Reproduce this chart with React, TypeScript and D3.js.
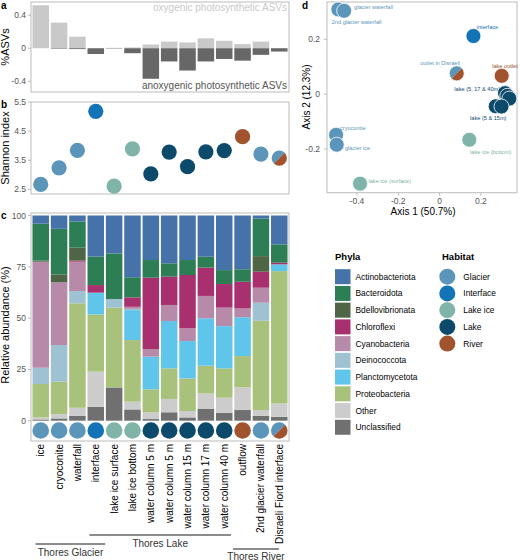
import React from 'react'
import * as d3 from 'd3'

// samples along the transect
const samples = ['ice', 'cryoconite', 'waterfall', 'interface', 'lake ice surface', 'lake ice bottom',
  'water column 5 m', 'water column 5 m ', 'water column 15 m', 'water column 17 m', 'water column 40 m',
  'outflow', '2nd glacier waterfall', 'Disraeli Fiord interface']
const sampleHabitat = ['Glacier', 'Glacier', 'Glacier', 'Interface', 'Lake ice', 'Lake ice', 'Lake', 'Lake',
  'Lake', 'Lake', 'Lake', 'River', 'Glacier', 'Glacier/River']

// panel a
const oxygenic = [0.52, 0.31, 0.14, 0, 0.005, 0.01, 0.045, 0.08, 0.07, 0.12, 0.09, 0.05, 0.08, 0]
const anoxygenic = [0, -0.006, -0.01, -0.07, -0.004, -0.06, -0.37, -0.16, -0.27, -0.16, -0.13, -0.15, -0.08, -0.04]

// panel b
const shannon = [2.67, 3.24, 3.84, 5.18, 2.61, 3.89, 3.03, 3.78, 3.28, 3.79, 3.83, 4.31, 3.71, 3.57]

// panel c, relative abundance (%) per phylum
const phyla = ['Actinobacteriota', 'Bacteroidota', 'Bdellovibrionata', 'Chloroflexi', 'Cyanobacteria',
  'Deinococcota', 'Planctomycetota', 'Proteobacteria', 'Other', 'Unclassified']
const unclassified = [0.6, 1.1, 2.4, 6.8, 16.2, 5.5, 0.8, 4.1, 1.6, 5.7, 3.9, 5.2, 2.4, 1.9]
const other = [1.0, 2.1, 3.9, 17.1, 0, 3.8, 3.3, 6.5, 3.1, 7.6, 7.3, 11.0, 2.8, 6.5]
const proteobacteria = [16.3, 15.8, 50.9, 27.9, 38.9, 30.0, 11.2, 14.9, 15.9, 13.5, 14.3, 15.3, 43.5, 64.5]
const planctomycetota = [0, 0, 0, 10.6, 0, 14.6, 15.9, 23.1, 18.2, 23.1, 20.6, 18.9, 0, 3.3]
const deinococcota = [7.9, 17.9, 6.0, 0, 4.2, 0.6, 0, 0, 0, 0, 0, 0, 8.8, 0]
const cyanobacteria = [51.7, 30.5, 14.3, 0, 0, 1.0, 3.7, 7.8, 6.2, 10.9, 9.0, 4.3, 7.3, 0]
const chloroflexi = [0, 0, 0.5, 3.7, 0, 4.6, 34.8, 13.8, 26.0, 13.8, 11.5, 13.0, 7.8, 0.8]
const bdellovibrionata = [0.5, 3.9, 6.3, 0, 0, 0, 0, 0, 0, 0, 0, 0, 7.6, 0]
const bacteroidota = [18.0, 22.2, 12.7, 13.9, 22.2, 9.8, 8.6, 6.5, 7.3, 5.3, 6.8, 6.1, 18.3, 8.9]
const actinobacteriota = [4.0, 6.5, 3.0, 20.0, 18.5, 30.1, 21.7, 23.3, 21.7, 20.1, 26.6, 26.2, 1.5, 14.1]

// panel d, PCoA
const pcoaAxis1 = [-0.49, -0.462, 0.164, 0.083, 0.301, 0.317, 0.328, 0.338, 0.272, 0.3, -0.501, -0.498, -0.385, 0.144]
const pcoaAxis2 = [0.309, 0.304, 0.212, 0.076, 0.067, 0.004, -0.006, -0.016, -0.044, -0.045, -0.148, -0.184, -0.326, -0.166]
const pcoaHabitat = ['Glacier', 'Glacier', 'Interface', 'Glacier/River', 'River', 'Lake', 'Lake', 'Lake', 'Lake', 'Lake',
  'Glacier', 'Glacier', 'Lake ice', 'Lake ice']
const pcoaLabels = ['glacier waterfall', '2nd glacier waterfall', 'interface', 'outlet in Disraeli', 'lake outlet',
  'lake (5, 17 & 40m)', 'lake (5 & 15m)', 'cryoconite', 'glacier ice', 'lake ice (surface)', 'lake ice (bottom)']
const pcoaLabelX = [-0.414, -0.522, 0.18, -0.094, 0.255, 0.293, 0.148, -0.482, -0.458, -0.344, 0.148]
const pcoaLabelY = [0.31, 0.256, 0.237, 0.107, 0.097, 0.01, -0.093, -0.13, -0.204, -0.323, -0.219]
const pcoaLabelHabitat = ['Glacier', 'Glacier', 'Interface', 'Glacier', 'River', 'Lake', 'Lake', 'Glacier', 'Glacier', 'Lake ice', 'Lake ice']

const habitats = ['Glacier', 'Interface', 'Lake ice', 'Lake', 'River']
const groups = ['Thores Glacier', 'Thores Lake', 'Thores River']

const phylaColor = d3.scaleOrdinal<string, string>().domain(phyla)
  .range(['#4573a9', '#2d7d55', '#4e6645', '#a8306f', '#b88aa9', '#9fc2d2', '#5fc5ea', '#a9c27b', '#cccccc', '#707070'])
const habitatColor = d3.scaleOrdinal<string, string>().domain(habitats)
  .range(['#5b96ba', '#1273b6', '#80b4a8', '#0c4a6b', '#a0532c'])

const font = 'Liberation Sans, Arial, sans-serif'
const tickCol = '#555'
const frame = '#bbbbbb'

function Dot ({ cx, cy, r, hab, stroke }: { cx: number, cy: number, r: number, hab: string, stroke?: string }) {
  if (hab === 'Glacier/River') {
    const arc = d3.arc<any>().innerRadius(0).outerRadius(r)
    return (
      <g transform={`translate(${cx},${cy})`}>
        <path d={arc({ startAngle: Math.PI * 1.25, endAngle: Math.PI * 2.25 }) || ''} fill={habitatColor('Glacier')} />
        <path d={arc({ startAngle: Math.PI * 0.25, endAngle: Math.PI * 1.25 }) || ''} fill={habitatColor('River')} />
        {stroke && <circle r={r} fill='none' stroke={stroke} strokeWidth={0.8} />}
      </g>
    )
  }
  return <circle cx={cx} cy={cy} r={r} fill={habitatColor(hab)} stroke={stroke || 'none'} strokeWidth={0.8} />
}

export default function App () {
  const left = 31
  const right = 289
  const x = d3.scaleBand<string>().domain(samples).range([left, right]).paddingInner(0.1).paddingOuter(0.08)
  const xc = (s: string) => (x(s) || 0) + x.bandwidth() / 2
  // fractional sample index -> x, for the group brackets
  const xi = d3.scaleLinear().domain([0, samples.length - 1]).range([xc(samples[0]), xc(samples[samples.length - 1])])

  // a
  const ya = d3.scaleLinear().domain([-0.53, 0.56]).range([92, 2])
  // b
  const yb = d3.scaleLinear().domain([2.34, 5.5]).range([194, 102])
  // c
  const yc = d3.scaleLinear().domain([0, 100]).range([420.7, 215.5])
  const table = samples.map((s, i) => ({
    sample: s,
    Unclassified: unclassified[i],
    Other: other[i],
    Proteobacteria: proteobacteria[i],
    Planctomycetota: planctomycetota[i],
    Deinococcota: deinococcota[i],
    Cyanobacteria: cyanobacteria[i],
    Chloroflexi: chloroflexi[i],
    Bdellovibrionata: bdellovibrionata[i],
    Bacteroidota: bacteroidota[i],
    Actinobacteriota: actinobacteriota[i]
  }))
  const stackKeys = phyla.slice().reverse()
  const series = d3.stack<any>().keys(stackKeys)(table)

  // d
  const xd = d3.scaleLinear().domain([-0.545, 0.375]).range([327, 517])
  const yd = d3.scaleLinear().domain([-0.359, 0.336]).range([192.7, 2])

  const groupFrom = [-0.28, 2.65, 10.48]
  const groupTo = [3.52, 10.37, 12.98]
  const groupLineY = [544, 535, 549]
  const groupTextY = [555.5, 547, 559.5]

  return (
    <svg width={520} height={560} style={{ position: 'absolute', left: 0, top: 0, background: '#fff' }} fontFamily={font}>
      {/* panel a */}
      <text x={1} y={9} fontSize={10} fontWeight='bold'>a</text>
      <rect x={left} y={2} width={right - left} height={90} fill='none' stroke={frame} />
      {samples.map((s, i) => (
        <g key={'a' + i}>
          <rect x={x(s)} width={x.bandwidth()} y={ya(Math.max(0, oxygenic[i]))} height={Math.abs(ya(oxygenic[i]) - ya(0))} fill='#c9c9c9' />
          <rect x={x(s)} width={x.bandwidth()} y={ya(0)} height={Math.abs(ya(anoxygenic[i]) - ya(0))} fill='#676767' />
        </g>
      ))}
      {[-0.4, 0, 0.4].map(t => (
        <g key={'ta' + t}>
          <line x1={left - 3} x2={left} y1={ya(t)} y2={ya(t)} stroke={frame} />
          <text x={left - 5} y={ya(t) + 3} fontSize={8.5} textAnchor='end' fill={tickCol}>{t}</text>
        </g>
      ))}
      <text x={287} y={11} fontSize={10} textAnchor='end' fill='#c9c9c9'>oxygenic photosynthetic ASVs</text>
      <text x={287} y={89} fontSize={10} textAnchor='end' fill='#555'>anoxygenic photosynthetic ASVs</text>
      <text transform={`translate(9,${47}) rotate(-90)`} fontSize={11} textAnchor='middle'>%ASVs</text>

      {/* panel b */}
      <text x={1} y={108} fontSize={10} fontWeight='bold'>b</text>
      <rect x={left} y={102} width={right - left} height={92} fill='none' stroke={frame} />
      {[2.5, 3.5, 4.5, 5.5].map(t => (
        <g key={'tb' + t}>
          <line x1={left - 3} x2={left} y1={yb(t)} y2={yb(t)} stroke={frame} />
          <text x={left - 5} y={yb(t) + 3} fontSize={8.5} textAnchor='end' fill={tickCol}>{t}</text>
        </g>
      ))}
      {samples.map((s, i) => (
        <Dot key={'b' + i} cx={xc(s)} cy={yb(shannon[i])} r={7.6} hab={sampleHabitat[i]} />
      ))}
      <text transform={`translate(9,${148}) rotate(-90)`} fontSize={11} textAnchor='middle'>Shannon index</text>

      {/* panel c */}
      <text x={1} y={219} fontSize={10} fontWeight='bold'>c</text>
      <rect x={left} y={213} width={right - left} height={228} fill='none' stroke={frame} />
      {series.map(ser => (
        <g key={ser.key} fill={phylaColor(ser.key)}>
          {ser.map((d: any, i: number) => (
            <rect key={i} x={x(d.data.sample)} width={x.bandwidth()} y={yc(d[1])} height={Math.max(0, yc(d[0]) - yc(d[1]))} />
          ))}
        </g>
      ))}
      {[0, 25, 50, 75, 100].map(t => (
        <g key={'tc' + t}>
          <line x1={left - 3} x2={left} y1={yc(t)} y2={yc(t)} stroke={frame} />
          <text x={left - 5} y={yc(t) + 3} fontSize={8.5} textAnchor='end' fill={tickCol}>{t}</text>
        </g>
      ))}
      {samples.map((s, i) => (
        <Dot key={'c' + i} cx={xc(s)} cy={430.5} r={8.3} hab={sampleHabitat[i]} />
      ))}
      <text transform={`translate(9,${325}) rotate(-90)`} fontSize={11} textAnchor='middle'>Relative abundance (%)</text>
      {samples.map((s, i) => (
        <text key={'xl' + i} transform={`translate(${xc(s) + 3.5},${444}) rotate(-90)`} fontSize={10} textAnchor='end'>{s.trim()}</text>
      ))}
      {groups.map((g, i) => {
        const a = xi(groupFrom[i])
        const b = xi(groupTo[i])
        return (
          <g key={g}>
            <line x1={a} x2={b} y1={groupLineY[i]} y2={groupLineY[i]} stroke='#666' strokeWidth={1.5} />
            <text x={(a + b) / 2} y={groupTextY[i]} fontSize={10} textAnchor='middle' fill='#333'>{g}</text>
          </g>
        )
      })}

      {/* panel d */}
      <text x={302} y={9} fontSize={10} fontWeight='bold'>d</text>
      <rect x={327} y={2} width={190} height={190.7} fill='none' stroke={frame} />
      {[-0.4, -0.2, 0, 0.2].map(t => (
        <g key={'tdx' + t}>
          <line x1={xd(t)} x2={xd(t)} y1={192.7} y2={195.7} stroke={frame} />
          <text x={xd(t)} y={203.5} fontSize={8.5} textAnchor='middle' fill={tickCol}>{t}</text>
        </g>
      ))}
      {[-0.2, 0, 0.2].map(t => (
        <g key={'tdy' + t}>
          <line x1={324} x2={327} y1={yd(t)} y2={yd(t)} stroke={frame} />
          <text x={320} y={yd(t) + 3} fontSize={8.5} textAnchor='end' fill={tickCol}>{t}</text>
        </g>
      ))}
      {pcoaAxis1.map((v, i) => (
        <Dot key={'d' + i} cx={xd(v)} cy={yd(pcoaAxis2[i])} r={7.5} hab={pcoaHabitat[i]} stroke='#fff' />
      ))}
      {pcoaLabels.map((l, i) => (
        <text key={'dl' + i} x={xd(pcoaLabelX[i])} y={yd(pcoaLabelY[i])} fontSize={5.6}
          textAnchor={l === 'lake (5, 17 & 40m)' ? 'end' : 'start'} fill={habitatColor(pcoaLabelHabitat[i])}>{l}</text>
      ))}
      <text x={423} y={215} fontSize={10} textAnchor='middle'>Axis 1 (50.7%)</text>
      <text transform={`translate(310,${97}) rotate(-90)`} fontSize={10} textAnchor='middle'>Axis 2 (12.3%)</text>

      {/* legends */}
      <text x={335} y={260} fontSize={9.5} fontWeight='bold'>Phyla</text>
      {phyla.map((p, i) => (
        <g key={p} transform={`translate(335,${276.7 + i * 16.73})`}>
          <rect x={0} y={-7.5} width={15.5} height={15} fill={phylaColor(p)} />
          <text x={20.5} y={3} fontSize={8.4}>{p}</text>
        </g>
      ))}
      <text x={442} y={260} fontSize={9.5} fontWeight='bold'>Habitat</text>
      {habitats.map((h, i) => (
        <g key={h} transform={`translate(447.3,${276.7 + i * 16.73})`}>
          <circle r={8} fill={habitatColor(h)} />
          <text x={16} y={3} fontSize={8.4}>{h}</text>
        </g>
      ))}
    </svg>
  )
}
